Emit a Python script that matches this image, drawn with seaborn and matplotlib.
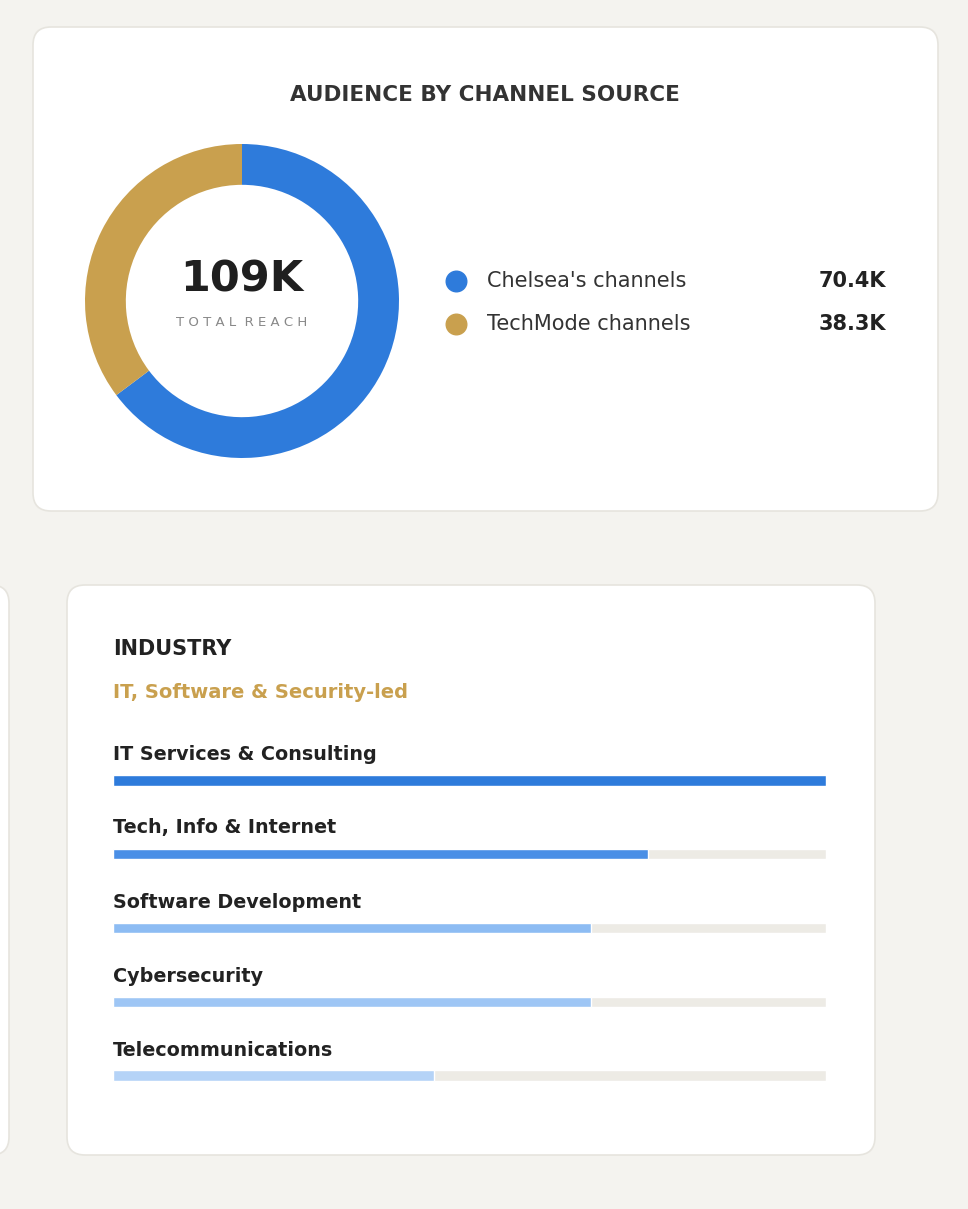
import matplotlib.pyplot as plt
import seaborn as sns
import pandas as pd
from matplotlib.patches import FancyBboxPatch

# data
channel_names = ["Chelsea's channels", "TechMode channels"]
channel_values = [70.4, 38.3]
channel_labels = ["70.4K", "38.3K"]
channel_colors = ["#2e7bdb", "#c9a04e"]

industries = ["IT Services & Consulting", "Tech, Info & Internet", "Software Development",
              "Cybersecurity", "Telecommunications"]
industry_share = [100, 75, 67, 67, 45]
industry_colors = ["#2e7bdb", "#4a8fe6", "#8dbcf3", "#9ec6f5", "#b5d3f7"]

W, H = 968, 1209
BG = "#f4f3ef"
sns.set_theme(style="white")
plt.rcParams['font.family'] = ['DejaVu Sans']

fig = plt.figure(figsize=(W / 100, H / 100), dpi=100, facecolor=BG)
base = fig.add_axes([0, 0, 1, 1])
base.set_xlim(0, W)
base.set_ylim(H, 0)
base.axis("off")


def card(x0, y0, x1, y1):
    base.add_patch(FancyBboxPatch((x0, y0), x1 - x0, y1 - y0,
                                  boxstyle="round,pad=0,rounding_size=18",
                                  fc="white", ec="#e6e4de", lw=1.2))


card(33, 27, 938, 511)
card(67, 585, 875, 1155)
card(-40, 585, 9, 1155)

base.text(485, 95, "AUDIENCE BY CHANNEL SOURCE", ha="center", va="center",
          fontsize=15.5, fontweight="bold", color="#333333")

# donut
r = 157
pie_ax = fig.add_axes([(242 - r) / W, 1 - (301 + r) / H, 2 * r / W, 2 * r / H])
pie_ax.pie(channel_values, colors=channel_colors, startangle=90, counterclock=False,
           wedgeprops=dict(width=0.26, edgecolor="none"))
pie_ax.set_xlim(-1, 1)
pie_ax.set_ylim(-1, 1)
pie_ax.set_aspect("equal")
base.text(242, 279, f"{round(sum(channel_values))}K", ha="center", va="center",
          fontsize=31, fontweight="bold", color="#1f1f1f")
base.text(242, 322, "T O T A L  R E A C H", ha="center", va="center",
          fontsize=9.5, color="#888888")

# legend
for i, (name, lab, col) in enumerate(zip(channel_names, channel_labels, channel_colors)):
    y = 281 + i * 43
    base.scatter([456], [y], s=220, color=col, zorder=3)
    base.text(487, y, name, va="center", fontsize=15, color="#333333")
    base.text(886, y, lab, va="center", ha="right", fontsize=15,
              fontweight="bold", color="#222222")

# industry card
base.text(113, 649, "INDUSTRY", va="center", fontsize=15, fontweight="bold", color="#222222")
base.text(113, 693, "IT, Software & Security-led", va="center", fontsize=14,
          fontweight="bold", color="#c9a04e")

row_y = [780, 853, 928, 1001, 1076]
step = row_y[1] - row_y[0]
top, bot = row_y[0] - step / 2, row_y[-1] + step / 2
bar_ax = fig.add_axes([113 / W, 1 - bot / H, (826 - 113) / W, (bot - top) / H])
df = pd.DataFrame({"industry": industries, "share": industry_share, "track": [100] * 5})
sns.barplot(data=df, x="track", y="industry", color="#edebe5", width=0.14,
            ax=bar_ax, saturation=1)
sns.barplot(data=df, x="share", y="industry", hue="industry", palette=industry_colors,
            width=0.14, ax=bar_ax, saturation=1, legend=False)
bar_ax.set_xlim(0, 100)
bar_ax.axis("off")
bar_ax.patch.set_alpha(0)

for name, y in zip(industries, row_y):
    base.text(113, y - 25, name, va="center", fontsize=13.8, fontweight="bold", color="#222222")

fig.savefig("out.png", dpi=100, facecolor=BG)
